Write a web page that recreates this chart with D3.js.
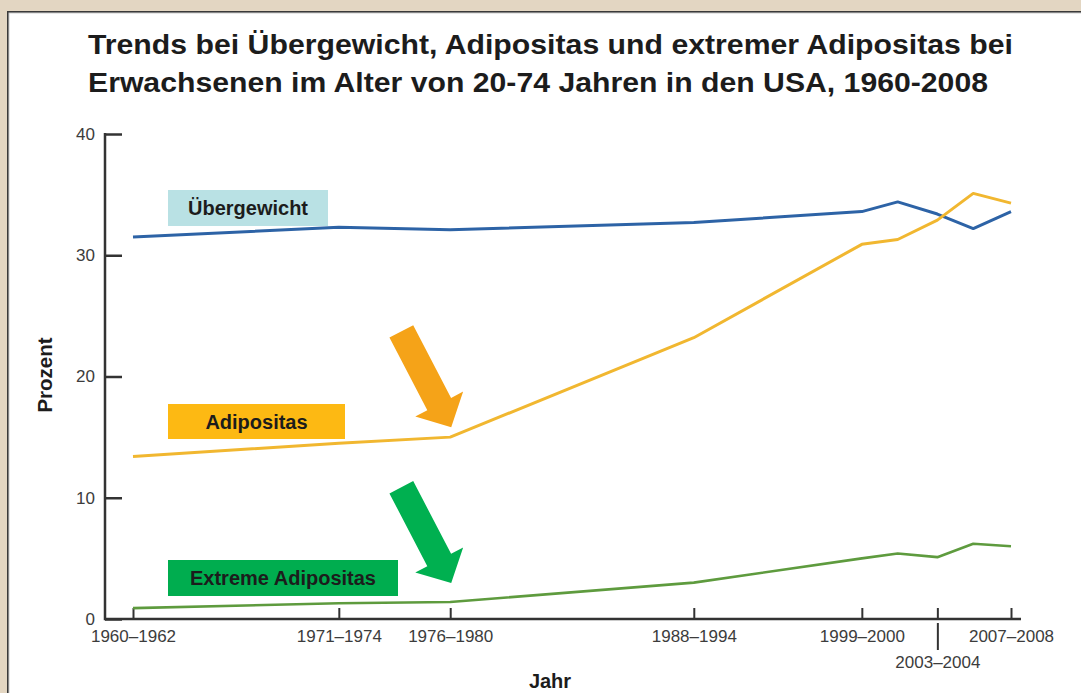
<!DOCTYPE html>
<html>
<head>
<meta charset="utf-8">
<script src="https://cdn.jsdelivr.net/npm/d3@7/dist/d3.min.js"></script>
<style>
  html, body { margin: 0; padding: 0; background: #e3d6c2; }
  svg { display: block; }
</style>
</head>
<body>
<script>
// ---------- data ----------
const periods = ["1960–1962", "1971–1974", "1976–1980", "1988–1994", "1999–2000", "2001–2002", "2003–2004", "2005–2006", "2007–2008"];
const periodPos = [1961, 1971.9, 1977.8, 1990.7, 1999.6, 2001.5, 2003.6, 2005.5, 2007.5];
const labeledPeriods = ["1960–1962", "1971–1974", "1976–1980", "1988–1994", "1999–2000", "2003–2004", "2007–2008"];
const overweight = [31.5, 32.3, 32.1, 32.7, 33.6, 34.4, 33.4, 32.2, 33.6];
const obesity = [13.4, 14.5, 15.0, 23.2, 30.9, 31.3, 32.9, 35.1, 34.3];
const extremeObesity = [0.9, 1.3, 1.4, 3.0, 5.0, 5.4, 5.1, 6.2, 6.0];
const yTicks = [0, 10, 20, 30, 40];
const seriesNames = ["Übergewicht", "Adipositas", "Extreme Adipositas"];
const titleLines = ["Trends bei Übergewicht, Adipositas und extremer Adipositas bei",
                    "Erwachsenen im Alter von 20-74 Jahren in den USA, 1960-2008"];

// ---------- setup ----------
const W = 1081, H = 693;
const svg = d3.select("body").append("svg").attr("width", W).attr("height", H);
const FONT = "'Liberation Sans', Arial, Helvetica, sans-serif";

// frame
svg.append("rect").attr("x", 0).attr("y", 0).attr("width", W).attr("height", H).attr("fill", "#e3d6c2");
svg.append("rect").attr("x", 7).attr("y", 11).attr("width", W).attr("height", H).attr("fill", "#3a3a3a");
svg.append("rect").attr("x", 8.5).attr("y", 12.5).attr("width", W).attr("height", H).attr("fill", "#cfcfcf");
svg.append("rect").attr("x", 9.5).attr("y", 13.5).attr("width", W).attr("height", H).attr("fill", "#ffffff");

// title
const titleWidths = [925, 900];
svg.append("g").selectAll("text").data(titleLines).join("text")
  .attr("x", 88).attr("y", (d, i) => 54 + i * 38)
  .attr("font-family", FONT).attr("font-weight", "bold").attr("font-size", 27)
  .attr("textLength", (d, i) => titleWidths[i]).attr("lengthAdjust", "spacingAndGlyphs")
  .attr("fill", "#1c1c1c").text(d => d);

// scales
const x = d3.scaleLinear().domain([1961, 2007.5]).range([133, 1011]);
const y = d3.scaleLinear().domain([0, 40]).range([619, 134]);
const axisLeftX = 105;
const axisColor = "#333";

// x axis
const posOf = p => periodPos[periods.indexOf(p)];
const xAxis = d3.axisBottom(x)
  .tickValues(labeledPeriods.map(posOf))
  .tickFormat(v => periods[periodPos.indexOf(v)])
  .tickSizeInner(-11).tickSizeOuter(0).tickPadding(11);
const gx = svg.append("g").attr("transform", `translate(0,${y(0)})`).call(xAxis);
gx.select(".domain").remove();
gx.selectAll(".tick line").attr("stroke", axisColor).attr("stroke-width", 2);
gx.selectAll(".tick text").attr("font-family", FONT).attr("font-size", 17).attr("fill", "#3c3c3c");
// 2003–2004 label placed lower with a leader line
gx.selectAll(".tick").filter(v => v === posOf("2003–2004")).each(function () {
  const t = d3.select(this);
  t.select("text").attr("y", 37);
  t.append("line").attr("x1", 0).attr("x2", 0).attr("y1", 4).attr("y2", 31)
    .attr("stroke", axisColor).attr("stroke-width", 2);
});
svg.append("line").attr("x1", axisLeftX).attr("x2", x(2007.5) + 10)
  .attr("y1", y(0)).attr("y2", y(0)).attr("stroke", axisColor).attr("stroke-width", 2.5);

// y axis
const yAxis = d3.axisLeft(y).tickValues(yTicks).tickSizeInner(-17).tickSizeOuter(0).tickPadding(10);
const gy = svg.append("g").attr("transform", `translate(${axisLeftX},0)`).call(yAxis);
gy.select(".domain").remove();
gy.selectAll(".tick line").attr("stroke", axisColor).attr("stroke-width", 2.5);
gy.selectAll(".tick text").attr("font-family", FONT).attr("font-size", 17).attr("fill", "#3c3c3c");
svg.append("line").attr("x1", axisLeftX).attr("x2", axisLeftX)
  .attr("y1", y(40) - 1).attr("y2", y(0) + 1.2).attr("stroke", axisColor).attr("stroke-width", 2.5);

// axis titles
svg.append("text").attr("transform", `translate(52,375) rotate(-90)`)
  .attr("text-anchor", "middle").attr("font-family", FONT).attr("font-weight", "bold")
  .attr("font-size", 20.5).attr("fill", "#1c1c1c").text("Prozent");
svg.append("text").attr("x", 550).attr("y", 688)
  .attr("text-anchor", "middle").attr("font-family", FONT).attr("font-weight", "bold")
  .attr("font-size", 20).attr("fill", "#1c1c1c").text("Jahr");

// lines
const line = d3.line().x((d, i) => x(periodPos[i])).y(d => y(d));
const series = [
  { name: seriesNames[0], values: overweight, color: "#2d63a6", width: 3 },
  { name: seriesNames[1], values: obesity, color: "#f1b730", width: 3 },
  { name: seriesNames[2], values: extremeObesity, color: "#5e9b3e", width: 2.6 }
];
svg.append("g").selectAll("path").data(series).join("path")
  .attr("d", d => line(d.values)).attr("fill", "none")
  .attr("stroke", d => d.color).attr("stroke-width", d => d.width)
  .attr("stroke-linejoin", "round");

// label boxes
const boxes = [
  { text: seriesNames[0], x: 168, y: 190, w: 160, h: 36, fill: "#b9e1e4" },
  { text: seriesNames[1], x: 168, y: 404, w: 177, h: 35, fill: "#fdb913" },
  { text: seriesNames[2], x: 168, y: 560, w: 230, h: 36, fill: "#00ad4f" }
];
const gb = svg.append("g").selectAll("g").data(boxes).join("g");
gb.append("rect").attr("x", d => d.x).attr("y", d => d.y).attr("width", d => d.w).attr("height", d => d.h)
  .attr("fill", d => d.fill);
gb.append("text").attr("x", d => d.x + d.w / 2).attr("y", d => d.y + d.h / 2 + 7.3)
  .attr("text-anchor", "middle").attr("font-family", FONT).attr("font-weight", "bold")
  .attr("font-size", 20).attr("fill", "#1c1c1c").text(d => d.text);

// arrows
function arrowPath(tipX, tipY) {
  const ang = Math.atan2(96, 50);
  const ux = Math.cos(ang), uy = Math.sin(ang);
  const px = -uy, py = ux;
  const len = 108, headLen = 26, shaftHalf = 13.4, headHalf = 27;
  const bx = tipX - ux * headLen, by = tipY - uy * headLen;
  const sx = tipX - ux * len, sy = tipY - uy * len;
  const pts = [
    [sx + px * shaftHalf, sy + py * shaftHalf],
    [bx + px * shaftHalf, by + py * shaftHalf],
    [bx + px * headHalf, by + py * headHalf],
    [tipX, tipY],
    [bx - px * headHalf, by - py * headHalf],
    [bx - px * shaftHalf, by - py * shaftHalf],
    [sx - px * shaftHalf, sy - py * shaftHalf]
  ];
  return "M" + pts.map(p => p.join(",")).join("L") + "Z";
}
const i7680 = periods.indexOf("1976–1980");
svg.append("path").attr("d", arrowPath(x(periodPos[i7680]) + 1, y(obesity[i7680]) - 10)).attr("fill", "#f5a318");
svg.append("path").attr("d", arrowPath(x(periodPos[i7680]) + 1, y(extremeObesity[i7680]) - 19)).attr("fill", "#00b050");
</script>
</body>
</html>
